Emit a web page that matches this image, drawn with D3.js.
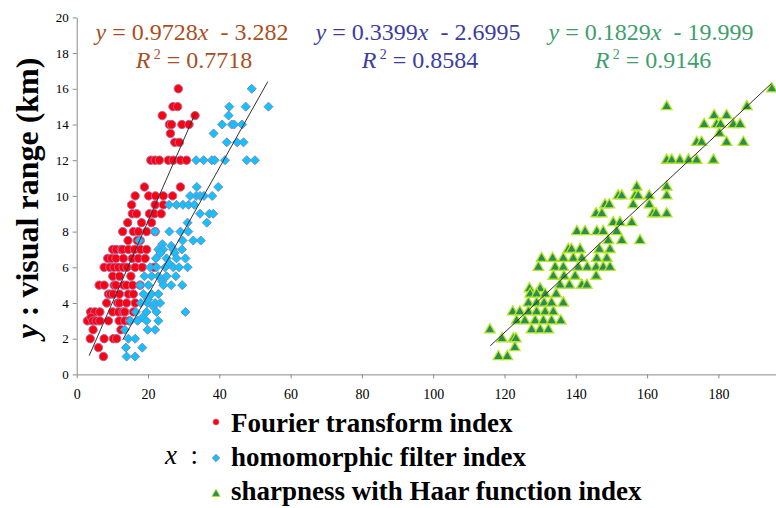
<!DOCTYPE html>
<html>
<head>
<meta charset="utf-8">
<script src="https://cdn.jsdelivr.net/npm/d3@7"></script>
<style>
  body { margin: 0; background: #fff; }
  svg { display: block; }
</style>
</head>
<body>
<div class="svg"></div>
<script>
const width = 776
const height = 508

// Data: [x index value, visual range in km]
const fourier = [
  [28.5, 16], [27, 15], [28.3, 15], [24, 14.5], [33.2, 14.5], [26, 14], [26.6, 14], [29.5, 14], [31.5, 14],
  [26.3, 13.5], [27.5, 13], [28.8, 13],
  [20.8, 12], [22, 12], [23.2, 12], [25.7, 12], [27.1, 12], [29.1, 12], [30.8, 12],
  [19, 10.5], [29.1, 10.5],
  [16.4, 10], [20.2, 10], [22.1, 10], [24.3, 10], [26.9, 10],
  [15.4, 9.5], [22, 9.5], [24.3, 9.5],
  [15.6, 9], [16.8, 9], [20.4, 9], [21.8, 9], [23.7, 9],
  [14.3, 8.5], [18.2, 8.5], [21, 8.5],
  [12.9, 8], [15.9, 8], [17.3, 8], [19.6, 8], [22, 8],
  [14.4, 7.5], [17, 7.5], [17.8, 7.5],
  [10.1, 7], [11.1, 7], [12.5, 7], [12.9, 7], [14.5, 7], [16.2, 7], [17.9, 7], [19.6, 7],
  [8.7, 6.5], [9.8, 6.5], [11, 6.5], [13.1, 6.5], [15.6, 6.5], [17.3, 6.5], [19.2, 6.5],
  [7.7, 6], [9.3, 6], [10.5, 6], [11.7, 6], [13, 6], [14.1, 6], [16.4, 6], [18.4, 6], [21.7, 6],
  [10.1, 5.5], [12, 5.5], [15.2, 5.5],
  [6.3, 5], [7.7, 5], [10.5, 5], [11, 5], [13.1, 5], [14, 5], [15.7, 5], [17.8, 5],
  [8.9, 4.5], [9.5, 4.5], [10.3, 4.5], [12, 4.5], [14.5, 4.5], [15.9, 4.5],
  [8.4, 4], [11.5, 4], [12, 4], [14, 4], [16.4, 4],
  [3.9, 3.5], [5.1, 3.5], [6.5, 3.5], [10.1, 3.5], [11.7, 3.5], [13, 3.5], [13.5, 3.5], [15.9, 3.5],
  [3, 3], [4, 3.2], [4.5, 3], [5.5, 3], [6.5, 3], [8.9, 3], [11.9, 3], [13.5, 3], [14.8, 3],
  [4.6, 2.5], [12.4, 2.5],
  [3.8, 2], [7.7, 2], [10.3, 2], [11.2, 2],
  [6.1, 1.5], [7.5, 1]
]

const homomorphic = [
  [49.1, 16], [42.8, 15], [47.4, 15], [53.8, 15], [42.6, 14.5], [40.8, 14], [43.5, 14], [44.2, 14], [46.4, 14],
  [38.4, 13.5], [42.1, 13], [45, 13], [46.8, 13],
  [33.5, 12], [35.6, 12], [37.9, 12], [38.7, 12], [41.6, 12], [47.7, 12], [50, 12],
  [33.7, 10.5], [39.7, 10.5],
  [31.8, 10], [33.5, 10], [34.6, 10], [35.7, 10], [38, 10],
  [25.9, 9.5], [28, 9.5], [29.8, 9.5], [31.4, 9.5], [33, 9.5],
  [34.6, 9], [37.2, 9], [38.3, 9],
  [31.1, 8.5], [36.5, 8.5],
  [22, 8], [26, 8], [29.1, 8], [31.3, 8],
  [17.6, 7.5], [24, 7.3], [29.7, 7.5], [32.7, 7.5], [34.8, 7.5],
  [22.9, 7], [24.3, 7], [26.5, 7.2], [27.1, 7], [29.5, 7],
  [22.2, 6.5], [23.5, 6.8], [25.2, 6.5], [27.5, 6.8], [28, 6.5], [30.5, 6.5],
  [20.6, 6], [22.4, 6], [24.8, 6], [26, 6.2], [27.1, 6], [28.7, 6], [31.1, 6],
  [19, 5.5], [21, 5.5], [22.9, 5.5], [25.2, 5.5], [27.8, 5.5],
  [17.8, 5], [20.1, 5], [24, 5.2], [24.3, 5], [26.5, 5], [29.6, 5],
  [18.7, 4.5], [21, 4.5], [22.9, 4.5],
  [18, 4], [19.9, 4], [20, 4.2], [21.5, 3.8], [22, 4], [23.4, 4],
  [16.6, 3.5], [19.6, 3.5], [22.4, 3.5], [30.5, 3.5],
  [15, 3], [17.1, 3], [18.5, 3.2], [19.6, 3], [22.9, 3],
  [13.5, 2.5], [19.9, 2.5], [22, 2.5],
  [14.5, 2], [16.4, 2],
  [13.8, 1.5], [18.4, 1.5],
  [14, 1], [16.4, 1]
]

const haar = [
  [195, 16], [165.5, 15], [188, 15], [178.8, 14.5], [182.3, 14.5],
  [176, 14], [179.5, 14], [180.6, 14], [184.2, 14], [186.1, 14], [180.3, 13.5],
  [173.9, 13], [175.3, 13], [182.3, 13], [187, 13],
  [165.5, 12], [166.9, 12], [169.2, 12], [171.6, 12], [173.9, 12], [178.6, 12],
  [157.1, 10.5], [165.5, 10.5],
  [151.9, 10], [152.9, 10], [156.6, 10], [157.5, 10], [160.6, 10], [165.5, 10],
  [148.2, 9.5], [149.4, 9.5], [156.1, 9.5], [160.6, 9.5],
  [145.7, 9], [147.3, 9], [161.6, 9], [162.5, 9], [165.5, 9],
  [150.5, 8.5], [152.4, 8.5], [155.7, 8.5],
  [140.3, 8], [142.6, 8], [145.9, 8], [147.7, 8], [151.5, 8],
  [149.1, 7.5], [152.9, 7.5], [158, 7.5],
  [137.9, 7], [138.8, 7], [141.2, 7], [146.6, 7], [149.6, 7],
  [130.4, 6.5], [133.5, 6.5], [136.5, 6.5], [139.3, 6.5], [141.7, 6.5], [145.9, 6.5], [148.7, 6.5],
  [129.5, 6], [134.2, 6], [136.5, 6], [140.7, 6], [143.2, 6], [145.7, 6], [147.7, 6], [149.6, 6],
  [133.7, 5.5], [136.7, 5.5], [139.8, 5.5], [145.7, 5.5],
  [135.6, 5], [138.2, 5], [141.7, 5], [143.1, 5],
  [127, 4.8], [130, 4.8],
  [127.2, 4.5], [129, 4.5], [131.4, 4.5], [134.5, 4.5],
  [126.7, 4], [129, 4], [131.1, 4], [133.2, 4], [136.5, 4],
  [122.3, 3.5], [124.3, 3.5], [126.7, 3.5], [129, 3.5], [131.4, 3.5], [133.7, 3.5],
  [123.4, 3], [125.7, 3], [128.6, 3], [130.9, 3], [133.2, 3], [135.8, 3],
  [115.9, 2.5], [127.6, 2.5], [130, 2.5], [132.3, 2.5],
  [119.3, 2], [122.5, 2], [123.2, 2],
  [122.9, 1.5],
  [118.3, 1], [120.8, 1]
]

// trend line end points as drawn
const fourierFit = [[3.5, 1.05], [33.2, 14.6]]
const homomorphicFit = [[12.9, 1.93], [53.6, 16.4]]
const haarFit = [[116, 1.6], [194.9, 16.3]]

const equations = ['0.9728', '3.282', '0.3399', '2.6995', '0.1829', '19.999']
const rSquared = ['0.7718', '0.8584', '0.9146']
const legendLabels = ['Fourier transform index', 'homomorphic filter index', 'sharpness with Haar function index']
const xTicks = [0, 20, 40, 60, 80, 100, 120, 140, 160, 180]
const yTicks = [0, 2, 4, 6, 8, 10, 12, 14, 16, 18, 20]

const svg = d3
  .select('.svg')
  .append('svg')
  .attr('width', width)
  .attr('height', height)

const xScale = d3.scaleLinear().domain([0, 200]).range([76.7, 789.7])
const yScale = d3.scaleLinear().domain([0, 20]).range([374.4, 17.4])

const serif = "'Liberation Serif', 'Times New Roman', serif"

// axes
const xAxis = d3.axisBottom(xScale).tickValues(xTicks).tickSize(4).tickSizeOuter(0).tickPadding(11)
const yAxis = d3.axisLeft(yScale).tickValues(yTicks).tickSize(4).tickSizeOuter(0).tickPadding(4)

const gx = svg
  .append('g')
  .attr('transform', 'translate(0,' + yScale(0) + ')')
  .call(xAxis)
gx.selectAll('text').attr('font-family', serif).attr('font-size', 14).attr('fill', '#000')

const gy = svg
  .append('g')
  .attr('transform', 'translate(' + xScale(0) + ',0)')
  .call(yAxis)
gy.selectAll('text').attr('font-family', serif).attr('font-size', 13).attr('fill', '#000')

svg.selectAll('.domain, .tick line').attr('stroke', '#8a8a8a')

// markers
const symDiamond = d3.symbol().type(d3.symbolDiamond2).size(52)
const symTriangle = d3.symbol().type(d3.symbolTriangle).size(48)

svg
  .append('g')
  .selectAll('circle')
  .data(fourier)
  .enter()
  .append('circle')
  .attr('cx', d => xScale(d[0]))
  .attr('cy', d => yScale(d[1]))
  .attr('r', 4.2)
  .attr('fill', '#ff0010')
  .attr('stroke', '#b06a9e')
  .attr('stroke-width', 1)

svg
  .append('g')
  .selectAll('path')
  .data(homomorphic)
  .enter()
  .append('path')
  .attr('d', symDiamond)
  .attr('transform', d => 'translate(' + xScale(d[0]) + ',' + yScale(d[1]) + ')')
  .attr('fill', '#0fc4fa')
  .attr('stroke', '#7a86c8')
  .attr('stroke-width', 1)

svg
  .append('g')
  .selectAll('path')
  .data(haar)
  .enter()
  .append('path')
  .attr('d', symTriangle)
  .attr('transform', d => 'translate(' + xScale(d[0]) + ',' + yScale(d[1]) + ')')
  .attr('fill', '#2a8c5a')
  .attr('stroke', '#b4e61e')
  .attr('stroke-width', 1.3)

// trend lines
const line = d3.line().x(d => xScale(d[0])).y(d => yScale(d[1]))
;[fourierFit, homomorphicFit, haarFit].forEach(f => {
  svg
    .append('path')
    .attr('d', line(f))
    .attr('fill', 'none')
    .attr('stroke', '#333')
    .attr('stroke-width', 1)
})

// equations
const eqColors = ['#a94f22', '#3c3ca0', '#3e9e6c']
const eqCenters = [192, 418, 651]
for (let i = 0; i < 3; i++) {
  const t = svg
    .append('text')
    .attr('x', eqCenters[i])
    .attr('y', 40)
    .attr('text-anchor', 'middle')
    .attr('font-family', serif)
    .attr('font-size', 24)
    .attr('fill', eqColors[i])
    .style('white-space', 'pre')
  t.append('tspan').attr('font-style', 'italic').text('y')
  t.append('tspan').text(' = ' + equations[i * 2])
  t.append('tspan').attr('font-style', 'italic').text('x')
  t.append('tspan').text('  - ' + equations[i * 2 + 1])

  const r = svg
    .append('text')
    .attr('x', eqCenters[i] + 2)
    .attr('y', 68)
    .attr('text-anchor', 'middle')
    .attr('font-family', serif)
    .attr('font-size', 24)
    .attr('fill', eqColors[i])
    .style('white-space', 'pre')
  r.append('tspan').attr('font-style', 'italic').text('R')
  r.append('tspan').attr('font-size', 14).attr('dy', -9).text(' 2')
  r.append('tspan').attr('dy', 9).text(' = ' + rSquared[i])
}

// y axis title
const yt = svg
  .append('text')
  .attr('transform', 'translate(38,198) rotate(-90)')
  .attr('text-anchor', 'middle')
  .attr('font-family', serif)
  .attr('font-size', 32)
  .attr('font-weight', 'bold')
  .style('white-space', 'pre')
yt.append('tspan').attr('font-style', 'italic').text('y')
yt.append('tspan').text(' : visual range (km)')

// legend
const legend = svg.append('g')
const rows = [432, 466, 500]
legend
  .append('circle')
  .attr('cx', 216)
  .attr('cy', rows[0] - 10)
  .attr('r', 3)
  .attr('fill', '#ff0010')
  .attr('stroke', '#d07080')
  .attr('stroke-width', 0.8)
legend
  .append('path')
  .attr('d', d3.symbol().type(d3.symbolDiamond2).size(34))
  .attr('transform', 'translate(216,' + (rows[1] - 8) + ')')
  .attr('fill', '#0fc4fa')
  .attr('stroke', '#7a86c8')
legend
  .append('path')
  .attr('d', d3.symbol().type(d3.symbolTriangle).size(30))
  .attr('transform', 'translate(216,' + (rows[2] - 6) + ')')
  .attr('fill', '#2a8c5a')
  .attr('stroke', '#b4e61e')

legendLabels.forEach((label, i) => {
  legend
    .append('text')
    .attr('x', 231)
    .attr('y', rows[i])
    .attr('font-family', serif)
    .attr('font-size', 27)
    .attr('font-weight', 'bold')
    .text(label)
})

const xl = legend
  .append('text')
  .attr('x', 165)
  .attr('y', 464)
  .attr('font-family', serif)
  .attr('font-size', 27)
  .style('white-space', 'pre')
xl.append('tspan').attr('font-style', 'italic').text('x')
xl.append('tspan').text('  :')
</script>
</body>
</html>
